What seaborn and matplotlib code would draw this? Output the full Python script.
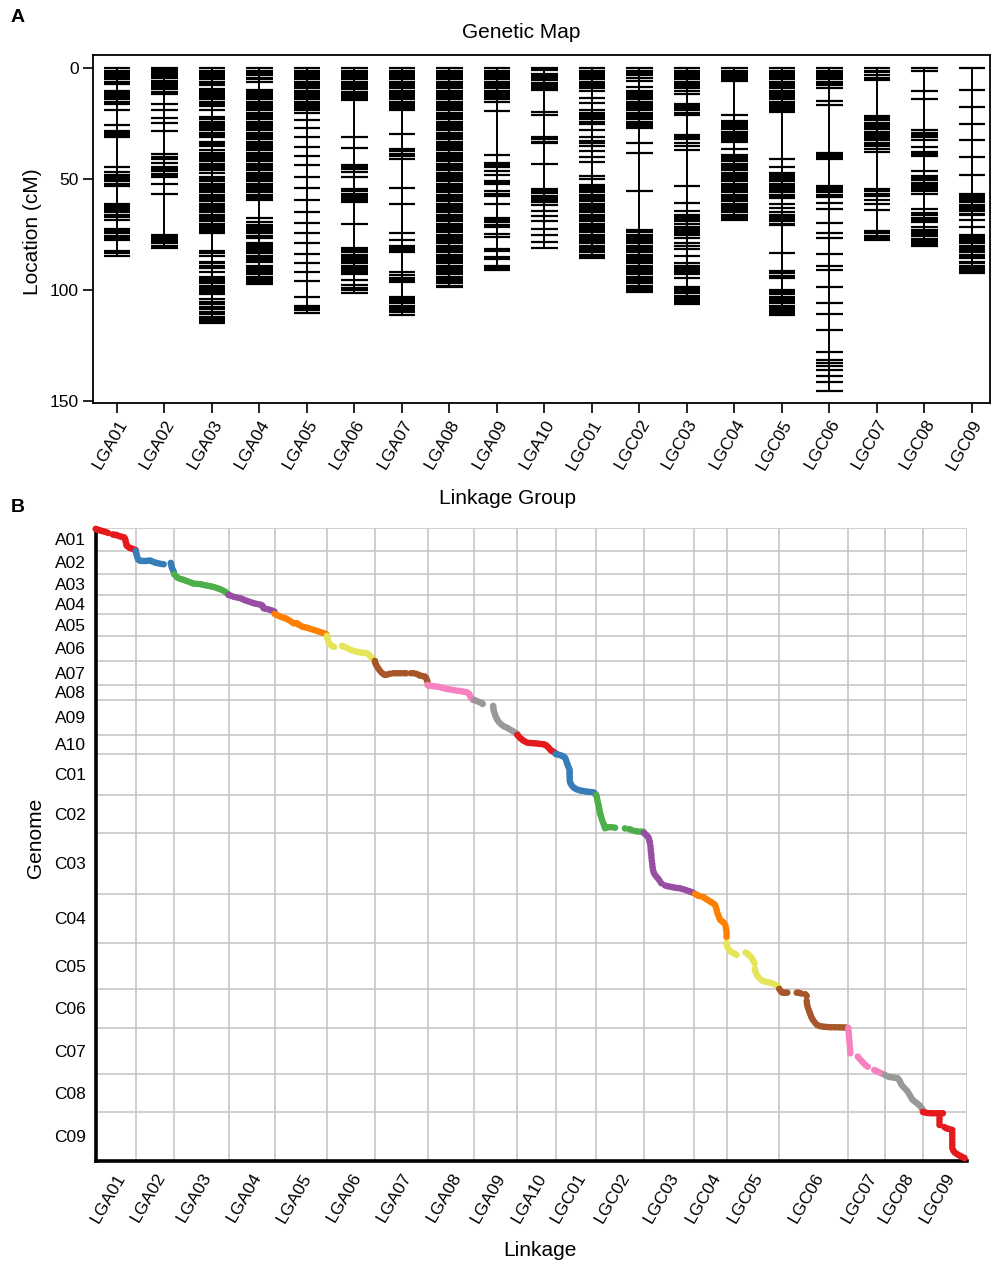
import numpy as np
import pandas as pd
import matplotlib
matplotlib.use("Agg")
import matplotlib.pyplot as plt
import seaborn as sns

groups = ["LGA01", "LGA02", "LGA03", "LGA04", "LGA05", "LGA06", "LGA07", "LGA08", "LGA09", "LGA10",
          "LGC01", "LGC02", "LGC03", "LGC04", "LGC05", "LGC06", "LGC07", "LGC08", "LGC09"]
chroms = ["A01", "A02", "A03", "A04", "A05", "A06", "A07", "A08", "A09", "A10",
          "C01", "C02", "C03", "C04", "C05", "C06", "C07", "C08", "C09"]
# physical length of each chromosome (Mb)
chrom_mb = [23, 23, 21, 19, 22, 25, 24, 15, 35, 19, 41, 38, 61, 49, 46, 39, 46, 38, 49]

# marker positions (cM) on each linkage group, panel A
LGA01 = [0, 1, 2, 3, 4, 5, 6, 6.9, 10.2, 11, 12, 13, 14, 15, 16, 18.6, 25.7, 28.2, 29, 30, 31, 44.3, 46.7,
         48, 49, 50, 51, 52, 53, 61, 62, 63, 64, 65, 66, 67, 68.2, 72.5, 73.5, 74.5, 75.5, 76.5, 77.5,
         82.3, 83.3, 84.5]
LGA02 = [0, 0.9, 1.5, 2.5, 3.5, 4.5, 5.5, 6.5, 7.5, 8.5, 9.5, 10.5, 11.5, 15.9, 18.9, 22.2, 24.6, 28.4,
         38.7, 40, 41, 42.9, 44.6, 45.5, 46.5, 47.5, 48.5, 49.2, 52.3, 56.9, 75, 76, 77, 78, 79, 80, 81]
LGA03 = [0, 1, 2, 3, 4, 5, 6, 7, 7.7, 9.2, 10, 11, 12, 13, 14, 15, 16, 17, 18.9, 22, 23, 24, 25, 26, 27,
         28, 29, 30, 31, 33, 34, 35, 37, 38, 39, 40, 41, 42, 43, 44, 45, 46, 47.4, 49, 50, 51, 52, 53,
         54, 55, 56, 57, 58, 59, 60, 61, 62, 63, 64, 65, 66, 67, 68, 69, 70, 71, 72, 73, 74, 74.5,
         82.5, 83.5, 84.5, 87.2, 88, 89, 89.9, 91.7, 94.3, 95, 96, 97, 98, 99, 100, 101, 102, 104,
         105.5, 106.5, 107.5, 108.5, 110, 111, 112, 113, 114, 115]
LGA04 = [0, 1, 2, 3, 4.2, 5, 6, 9.6, 10, 11, 12, 13, 14, 15, 16, 17, 18, 19, 20, 21, 22, 23, 24, 25,
         26, 27, 28, 29, 30, 31, 32, 33, 34, 35, 36, 37, 38, 39, 40, 41, 42, 43, 44, 45, 46, 47, 48,
         49, 50, 51, 52, 53, 54, 55, 56, 57, 58, 59, 59.5, 67.7, 69.5, 70.5, 71.5, 72.5, 73.5, 74.5,
         75.5, 76.7, 78.7, 79.5, 80.5, 81.5, 82.5, 83.5, 84.5, 85.5, 86.5, 87.5, 89, 90, 91, 92, 93,
         94, 95, 96, 97, 97.4]
LGA05 = [0, 1, 2, 3, 4, 5, 6, 7, 8, 9, 10.2, 11, 12, 13, 14, 15, 16, 17, 18, 19, 20, 23.1, 27, 31.1,
         35.4, 39.5, 43.4, 49.2, 54.2, 59.6, 64.7, 69.8, 74.5, 79, 83.6, 87.8, 91.7, 95.9, 103, 107,
         108, 109, 110.5]
LGA06 = [0, 1, 2, 3, 4, 5, 6, 7, 8, 8.7, 9.5, 10.5, 11.5, 12.5, 13.5, 14.4, 31.1, 35.9, 43.4, 44.3,
         45.5, 46.7, 49, 54.5, 55.5, 56.5, 57.5, 58.5, 59.5, 60.5, 70.3, 81, 82, 83, 84, 85, 86, 87,
         88, 89, 90, 91, 92, 93, 95.5, 97.7, 99, 100, 101.2]
LGA07 = [0, 1, 2, 3, 4, 5, 6, 7, 8, 9, 10, 11, 12, 13, 14, 15, 16, 17, 18, 19, 29.4, 36.5, 37.5, 38.5,
         39.5, 40.7, 53.8, 61.4, 74.5, 77.6, 80.2, 81, 82, 82.7, 91.7, 93.2, 94.5, 95.5, 96.5, 103,
         104, 105, 106, 107, 108, 109, 110, 111.3]
LGA08 = [0, 1, 2, 3, 4, 5, 6, 7, 8, 9, 10, 11, 12, 13, 14, 15, 16, 17, 18, 19, 20, 21, 22, 23, 24, 25,
         26, 27, 28, 29, 30, 31, 32, 33, 34, 35, 36, 37, 38, 39, 40, 41, 42, 43, 44, 45, 46, 47, 48,
         49, 50, 51, 52, 53, 54, 55, 56, 57, 58, 59, 60, 61, 62, 63, 64, 65, 66, 67, 68, 69, 70, 71,
         72, 73, 74, 75, 76, 77, 78, 79, 80, 81, 82, 83, 84, 85, 86, 87, 88, 89, 90, 91, 92, 93, 94,
         95, 96, 97, 98, 98.5]
LGA09 = [0, 1, 2, 3, 4, 5, 6, 7, 8, 9, 10, 11, 12, 13, 14, 15, 19.1, 39, 42.6, 43.5, 44.4, 46.4, 48.2,
         50.6, 51.4, 52.1, 55.4, 56.6, 57.8, 61.4, 67.4, 68.5, 69.5, 70.5, 71.5, 74.8, 76.3, 81.4,
         82.4, 85, 86.2, 89, 90, 91.1]
LGA10 = [0, 0.9, 2.4, 3.4, 4.4, 5.4, 6.4, 7.4, 8.4, 9.4, 9.9, 19.7, 21.2, 31.1, 32, 33, 33.6, 43.1,
         54.4, 55.4, 56.4, 57.4, 58.4, 59.4, 60.4, 61.7, 64.4, 66.5, 68.9, 72.5, 75.2, 78.4, 80.9]
LGC01 = [0, 1, 2, 3, 4, 5, 6, 7, 8, 9, 10, 13.4, 15.5, 19, 20, 21, 22, 23, 24, 25, 27.6, 30.8, 32.6,
         33.8, 35, 37.4, 39.8, 42.3, 48.5, 49.7, 52.7, 53, 54, 55, 56, 57, 58, 59, 60, 61, 62, 63, 64,
         65, 66, 67, 68, 69, 70, 71, 72, 73, 74, 75, 76, 77, 78, 79, 80, 81, 82, 83, 84, 85, 85.4]
LGC02 = [0, 1, 2, 3.2, 4.4, 5.6, 8.4, 10.4, 11, 12, 13, 14, 15, 16, 17, 18, 19, 20, 21, 22, 23, 24,
         25, 26, 26.9, 33.6, 38, 55.3, 73, 74, 75, 76, 77, 78, 79, 80, 81, 82, 83, 84, 85, 86, 87, 88,
         89, 90, 91, 92, 93, 94, 95, 96, 97, 98, 99, 100, 100.8]
LGC03 = [0, 1, 2, 3, 4, 5, 6, 7, 8, 9, 10.2, 11.4, 16.2, 17, 18, 19, 20, 21.2, 30, 31, 32, 33.5, 35,
         36.8, 52.9, 60.8, 64.3, 66, 67, 68, 69, 70, 71.5, 72.5, 73.5, 74.5, 75.2, 76.7, 79, 80, 81.5,
         84.7, 88, 89, 90, 91, 92, 93, 94.4, 98.6, 99.5, 100.5, 101.5, 102.5, 103.5, 104.5, 105.5,
         106.5]
LGC04 = [0, 1, 2, 3, 4, 5, 5.9, 20.9, 23.6, 24.5, 25.5, 26.5, 27.5, 28.5, 29.5, 30.5, 31.5, 32.5, 33.2,
         36.2, 39.2, 40, 41, 42, 43, 44, 45, 46, 47, 48, 49, 49.7, 51, 52, 53, 54, 55, 56, 57, 58, 59,
         60, 61, 62, 63, 64, 65, 66, 67, 68, 68.3]
LGC05 = [0, 1, 2, 3, 4, 5, 6, 7, 8, 9, 10, 11, 12, 13, 14, 15, 16, 17, 18, 19, 19.7, 41, 44.6, 47, 48,
         49, 50, 51, 52, 53, 54, 55, 56, 57, 58, 58.4, 61.3, 63.2, 65, 66, 67, 68, 69, 70, 70.7, 83.5,
         91.4, 92.5, 93.5, 94.7, 100.2, 101, 102, 103, 104, 105, 106, 107, 108, 109, 110, 111, 111.3]
LGC06 = [0, 1, 2, 3, 4, 5, 6, 7, 7.4, 9, 14.6, 16.7, 38, 39, 40, 41, 53, 54, 55, 56, 57, 58, 60.7,
         63.5, 69.7, 74.2, 76.7, 83.9, 89.2, 91.1, 98.8, 106, 110.8, 118, 127.8, 131.5, 133, 134.5,
         136, 139, 141.3, 145.8]
LGC07 = [0, 1, 1.7, 3.2, 4.2, 5.1, 21.5, 22.5, 23.5, 24.5, 25.5, 26.5, 27.5, 28.5, 29.5, 30.5, 31.5,
         32.5, 33.5, 34.5, 35, 36.2, 37.7, 54.5, 55.5, 56.5, 57.7, 59.5, 61, 64.1, 73.4, 74.5, 75.5,
         76.5, 77.5]
LGC08 = [0, 1.2, 10.4, 13.7, 28, 29, 30, 31, 32.4, 35.6, 37.7, 38.6, 39.5, 46.4, 48.5, 49.5, 50.5,
         51.5, 52.5, 53.5, 54.5, 55.5, 56.9, 63.5, 65.3, 66.3, 67.3, 68.3, 69.2, 71.8, 72.8, 73.8,
         74.8, 75.8, 76.8, 77.8, 78.8, 79.5, 80.2]
LGC09 = [0, 9.9, 17.4, 24.9, 32.4, 39.9, 48.2, 56.5, 57.5, 58.5, 59.5, 60.5, 61.5, 62.5, 63.5, 64.5,
         65.5, 66.2, 68.5, 71.8, 75.2, 76, 77, 78, 79, 80, 81, 82, 83, 84, 85, 85.7, 87.2, 88, 89, 90,
         91, 92, 92.5]

lg_markers = [LGA01, LGA02, LGA03, LGA04, LGA05, LGA06, LGA07, LGA08, LGA09, LGA10,
              LGC01, LGC02, LGC03, LGC04, LGC05, LGC06, LGC07, LGC08, LGC09]

# panel B: (position in linkage group cM, position on chromosome Mb)
pts_A01 = [(0, 1), (3, 1.5), (6, 2), (9, 2.5), (13, 3), (17, 3.5), (21, 4), (26, 5), (36, 6.5), (40, 7),
           (44, 7), (48, 8), (52, 8.5), (56, 9), (60, 9.5), (62, 11), (63, 13), (64, 15), (65, 17),
           (66, 18), (69, 19), (72, 20), (76, 20.5), (80, 21.5), (84, 22)]
pts_A02 = [(0, 0), (1, 2), (2, 4), (3.5, 6.5), (5, 8.5), (8, 9.5), (12, 10), (17, 10), (22, 10),
           (27, 9.7), (31, 9.7), (35, 10.5), (40, 11.5), (44, 12), (49, 12.5), (54, 13), (59, 13.3),
           (74, 12), (75, 14), (76, 16), (77, 17.5), (79, 19.5), (80.5, 21.3)]
pts_A03 = [(0, 0.3), (4, 2), (7, 3.7), (12, 4.8), (17, 5.5), (21, 6), (26, 7), (31, 7.8), (36, 8.8),
           (40, 9.5), (45, 9.8), (50, 10), (56, 10.3), (61, 10.8), (66, 11.3), (71, 11.8), (76, 12.2),
           (81, 12.8), (86, 13.3), (91, 14.2), (96, 15), (101, 16), (106, 17.2), (110, 18.5), (114, 20)]
pts_A04 = [(0, 0), (5, 0.8), (10, 1.7), (15, 2.2), (20, 2.8), (25, 3.3), (30, 4.3), (35, 5.3), (39, 6),
           (44, 6.8), (49, 7.6), (53, 8.3), (58, 8.8), (63, 9.3), (68, 9.8), (71, 10.5), (73, 12),
           (74, 13.3), (78, 13.8), (83, 14.3), (88, 15), (93, 15.8), (97, 16.7)]
pts_A05 = [(0, 0), (4, 1), (8, 1.8), (12, 2.7), (17, 3.5), (22, 4.3), (26, 5), (31, 6.5), (36, 8),
           (40, 9.3), (44, 9.3), (47, 9.3), (50, 10.5), (54, 11.5), (58, 12.7), (63, 13.3), (68, 13.8),
           (72, 14.3), (77, 15.2), (83, 16), (89, 17), (94, 17.8), (99, 18.5), (104, 19.3), (109, 20.3)]
pts_A06 = [(0, 0), (1, 2), (2, 4), (3, 6), (5, 7.5), (8, 9), (11, 10), (15, 11), (32, 10), (36, 10.8),
           (41, 11.8), (46, 13), (50, 14), (55, 14.8), (60, 15.5), (65, 16), (70, 16.5), (75, 16.8),
           (80, 17), (85, 17.3), (88, 18.5), (91, 20), (94, 21.5), (97, 23), (99, 24.7)]
pts_A07 = [(0, 0), (1, 2), (2.7, 4), (5, 6), (8, 8), (11, 10), (15, 12), (19, 13.5), (22, 14),
           (27, 13.5), (32, 12.8), (39, 12.3), (45, 12.3), (50, 12.3), (55, 12.3), (61, 12.3),
           (66, 12.3), (76, 12.3), (82, 12.3), (88, 13), (93, 14), (96, 14.7), (101, 15.2),
           (106, 15.7), (108, 17), (110, 19), (111, 20.7)]
pts_A08 = [(0, 0), (2, 0.7), (7, 1), (12, 1.2), (17, 1.5), (22, 1.8), (27, 2.3), (32, 3), (37, 3.6),
           (41, 4), (46, 4.4), (51, 4.8), (56, 5.2), (62, 5.7), (67, 6), (72, 6.4), (77, 6.8),
           (83, 7.3), (87, 8.5), (89, 10), (90.5, 11.7), (93, 13), (96, 15)]
pts_A09 = [(0, 0), (4, 0.8), (8, 1.6), (12, 2.4), (16, 3.2), (18, 4), (40, 6), (40.5, 8), (41, 10),
           (42, 11.7), (43.5, 14), (45, 16), (47, 18), (49, 20), (52, 22), (56, 24), (60, 25.5),
           (64, 26.7), (68, 27.5), (72, 28.5), (77, 30), (81, 31), (85, 32.3), (89, 33.3), (91, 34)]
pts_A10 = [(0, 0), (3, 1.5), (6, 3), (9, 4.2), (12, 5.5), (16, 6.5), (21, 7.7), (26, 8), (31, 8.2),
           (35, 8.3), (40, 8.5), (45, 8.8), (49, 9), (54, 9.3), (58, 9.7), (61, 10.5), (64, 11.8),
           (67, 13.2), (70, 15), (73, 16), (77, 17), (81, 18.3)]
pts_C01 = [(0, 0), (4, 0.5), (8, 1), (12, 1.6), (16, 2.4), (19, 3.3), (21, 5), (22.5, 7), (24, 9.3),
           (25.5, 11), (27, 13), (29, 15), (29.6, 17), (29.6, 19), (29.6, 21), (29.6, 23), (29.6, 26),
           (30.5, 28), (32, 30), (35, 32), (38, 33.5), (41, 34.5), (45, 35.5), (50, 36.3), (54, 36.8),
           (58, 37), (63, 37.5), (68, 37.8), (73, 38), (79, 38.3), (83, 39.5), (85, 41)]
pts_C02 = [(0, 0), (1.5, 2), (2.5, 4.5), (3.5, 7), (4.5, 9), (5.5, 11), (6.5, 13.5), (7.5, 16),
           (8.4, 18.3), (10, 20.5), (11.5, 23), (13, 25.5), (15.4, 28.3), (17, 30.5), (19, 33.3),
           (23, 32.5), (28, 32.3), (34, 32.3), (40, 32.8), (61, 33.5), (70, 34.2), (74, 35), (79, 35.8),
           (84, 36.3), (89, 36.6), (95, 36.7), (100, 36.8)]
pts_C03 = [(0, 0), (3, 1), (6, 2.5), (9, 4), (11, 6), (12, 8), (13, 10), (14, 13), (14.5, 16), (15, 19),
           (16, 22), (16.3, 25), (17, 28), (18, 31), (18.5, 34), (19.5, 37), (21, 39.5), (23, 41.5),
           (26.8, 43.7), (30, 45.5), (33, 47.5), (37, 50.3), (45, 52.5), (50, 53.2), (55, 53.7),
           (60, 54.2), (65, 54.7), (70, 55), (76, 55.3), (81, 56), (86, 56.7), (91, 57.5), (96, 58.3),
           (100, 59), (104, 59.7)]
pts_C04 = [(2, 0), (6, 1), (9, 2), (16, 2.7), (20, 3.3), (23, 4.5), (27, 5.5), (30, 6.5), (34, 7.7),
           (37, 8.5), (41, 9.8), (44, 11), (46, 13.5), (47.5, 16), (49, 19), (51, 21.5), (53, 24),
           (55, 26), (59, 27.5), (62, 28.5), (65.5, 31), (67, 34), (68, 37), (68.3, 40), (68.3, 43)]
pts_C05 = [(0, 0), (1, 2.5), (2.5, 4.5), (4.5, 6.5), (7, 8), (10, 9), (14, 10), (18, 11), (21, 12),
           (40, 9.5), (43, 10.3), (46, 11.5), (49, 13), (52, 14), (55, 16.5), (57, 18.5), (59, 20.3),
           (59.8, 26), (61, 28.7), (63, 31), (66, 33.5), (70, 35.5), (75, 37.5), (80, 38.5), (85, 39),
           (90, 39.5), (95, 40), (100, 41), (105, 42.5), (109, 43.7)]
pts_C06 = [(0, 0), (3, 2), (6, 3.5), (9, 3.7), (13, 3.7), (17, 3.7), (37, 3.7), (41, 3.7), (46, 4.5),
           (55, 5.3), (58, 7), (58, 12), (58.5, 14.5), (59.5, 17), (61, 19.5), (63, 22), (65, 24.5),
           (67, 27), (69, 29.3), (72, 31.5), (76, 34), (80, 36), (85, 37), (90, 37.5), (95, 37.8),
           (100, 38), (105, 38.2), (110, 38.3), (116, 38.3), (121, 38.3), (127, 38.4), (132, 38.5),
           (137, 38.5), (142, 38.7)]
pts_C07 = [(0, 0), (0.5, 2.5), (1, 5), (1.5, 8), (2, 11), (2.5, 14), (3, 17), (3.5, 20), (4, 23),
           (4.2, 25.3), (20, 28.7), (24, 31), (28, 33), (32, 35), (36, 37), (41, 38.7), (55, 42),
           (59, 43), (63, 44), (68, 45), (73, 46)]
pts_C08 = [(0, 1), (4, 2), (8, 2.8), (13, 3.3), (18, 3.6), (23, 4), (27, 4.3), (30, 6), (32, 8), (34, 10),
           (37, 12), (41, 14), (45, 16), (48, 17.7), (51, 20), (54, 22.5), (57, 25), (60, 26.5),
           (64, 28), (68, 29.5), (72, 31), (75, 32.5), (78, 34.5), (80, 36)]
pts_C09 = [(0, 0), (4, 0.5), (9, 1), (14, 1.2), (19, 1.3), (24, 1.3), (29, 1.3), (34, 1.3), (39, 1.3),
           (42, 1.3), (35, 4), (35, 7), (35, 10), (35, 13), (45, 15), (49, 16.3), (53, 16.8), (58, 17.5),
           (62, 18), (62, 21), (62, 24), (62, 27), (62, 30), (62, 33), (62, 36), (64, 38.5), (67, 40.5),
           (71, 41.8), (75, 43), (79, 44), (83, 45), (86, 45.8), (88, 46.3)]

b_points = [pts_A01, pts_A02, pts_A03, pts_A04, pts_A05, pts_A06, pts_A07, pts_A08, pts_A09, pts_A10,
            pts_C01, pts_C02, pts_C03, pts_C04, pts_C05, pts_C06, pts_C07, pts_C08, pts_C09]

set1 = ["#e41a1c", "#377eb8", "#4daf4a", "#984ea3", "#ff7f00", "#e5e55a", "#a65628", "#f781bf", "#999999"]

sns.set_style("white")
plt.rcParams["font.family"] = ["Liberation Sans", "DejaVu Sans"]
plt.rcParams["text.color"] = "black"
plt.rcParams["axes.labelcolor"] = "black"
plt.rcParams["xtick.color"] = "black"
plt.rcParams["ytick.color"] = "black"

fig = plt.figure(figsize=(9.91, 12.63), dpi=100)

# ---- panel A: genetic map
ax1 = fig.add_axes([0.0938, 0.6809, 0.9052, 0.2755])
for i, m in enumerate(lg_markers):
    ax1.vlines(i, 0, max(m), color="black", lw=1.4)
    ax1.hlines(m, i - 0.275, i + 0.275, color="black", lw=1.6)
ax1.set_xlim(-0.505, 18.38)
ax1.set_ylim(151, -6)
ax1.set_xticks(range(len(groups)))
ax1.set_xticklabels(groups, rotation=60, ha="right", rotation_mode="anchor", fontsize=12.5)
ax1.set_yticks([0, 50, 100, 150])
ax1.tick_params(axis="both", bottom=True, left=True, direction="out", length=7, width=1.2,
                pad=3, colors="black")
ax1.tick_params(axis="y", labelsize=12.5)
for s in ax1.spines.values():
    s.set_linewidth(1.3)
    s.set_color("black")

# ---- panel B: linkage vs genome
ax2 = fig.add_axes([0.0966, 0.0808, 0.8789, 0.5012])
lg_len = np.array([max(m) for m in lg_markers])
x_start = np.concatenate([[0], np.cumsum(lg_len)[:-1]])
y_start = np.concatenate([[0], np.cumsum(chrom_mb)[:-1]])
rows = []
for i, pts in enumerate(b_points):
    for cm, mb in pts:
        rows.append((chroms[i], x_start[i] + cm, y_start[i] + mb))
df = pd.DataFrame(rows, columns=["chrom", "linkage", "genome"])
pal = {c: set1[i % 9] for i, c in enumerate(chroms)}

xb = np.concatenate([[0], np.cumsum(lg_len)])
yb = np.concatenate([[0], np.cumsum(chrom_mb)])
ax2.set_axisbelow(True)
ax2.set_xticks(xb, minor=True)
ax2.set_yticks(yb, minor=True)
ax2.grid(which="minor", color="#c8c8c8", lw=1.2)
ax2.grid(which="major", visible=False)

sns.scatterplot(data=df, x="linkage", y="genome", hue="chrom", palette=pal, s=22,
                linewidth=0, legend=False, ax=ax2, zorder=3, clip_on=False)

ax2.set_xlim(0, xb[-1])
ax2.set_ylim(yb[-1], 0)
ax2.set_xticks(x_start + lg_len / 2)
ax2.set_xticklabels(groups, rotation=60, ha="right", rotation_mode="anchor", fontsize=12.5)
ax2.set_yticks(y_start + np.array(chrom_mb) / 2)
ax2.set_yticklabels(chroms, fontsize=12.5)
ax2.tick_params(which="both", length=0, pad=7, colors="black")
ax2.set_xlabel("")
ax2.set_ylabel("")
ax2.spines["top"].set_visible(False)
ax2.spines["right"].set_visible(False)
for side in ["left", "bottom"]:
    ax2.spines[side].set_linewidth(2.6)
    ax2.spines[side].set_color("black")

# ---- labels
fig.text(18 / 991, 1 - 18 / 1263, "A", fontsize=14, fontweight="bold", ha="center", va="center")
fig.text(18 / 991, 1 - 508 / 1263, "B", fontsize=14, fontweight="bold", ha="center", va="center")
fig.text(521 / 991, 1 - 32 / 1263, "Genetic Map", fontsize=15, ha="center", va="center")
fig.text(33 / 991, 1 - 232 / 1263, "Location (cM)", fontsize=15, rotation=90, ha="center", va="center")
fig.text(507 / 991, 1 - 498 / 1263, "Linkage Group", fontsize=15, ha="center", va="center")
fig.text(35 / 991, 1 - 838 / 1263, "Genome", fontsize=15, rotation=90, ha="center", va="center")
fig.text(540 / 991, 1 - 1250 / 1263, "Linkage", fontsize=15, ha="center", va="center")

fig.savefig("out.png", dpi=100)
